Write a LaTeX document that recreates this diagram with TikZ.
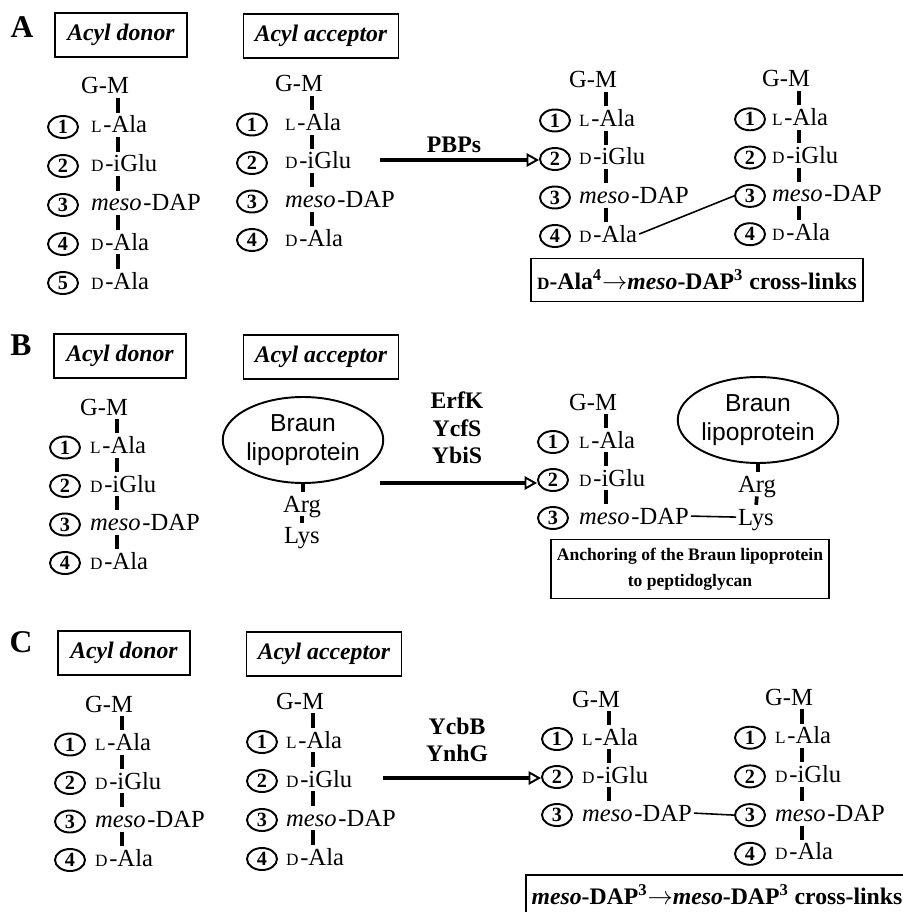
\documentclass[tikz,border=0pt]{standalone}
\usepackage{fontspec}
\setmainfont{Liberation Serif}
\setsansfont{Liberation Sans}
\usetikzlibrary{shapes.geometric,arrows.meta}

\newcommand\sC[1]{{\fontsize{9.8pt}{10pt}\selectfont #1}}
\newcommand\resname[1]{\ifcase#1 G-M\or\sC{L}\kern1pt-Ala\or\sC{D}\kern1pt-iGlu\or\emph{meso}\kern1pt-DAP\or\sC{D}\kern1pt-Ala\or\sC{D}\kern1pt-Ala\fi}
% #1 name, #2 bar x, #3 G-M y, #4 circle x, #5 row step, #6 residues
\newcommand\pepchain[6]{%
  \coordinate (#1bar) at (#2,#3);
  \node[res, anchor=base] (#1r0) at (#2-13,#3+8) {G-M};
  \foreach \i [remember=\i as \p (initially 0)] in {1,...,#6}{
    \node[res, anchor=base west] (#1r\i) at (#2-29,#3+#5*\i+8) {\resname{\i}};
    \node[num] (#1n\i) at (#4,#3+#5*\i+2) {\i};
    \draw[bond] (#1bar |- #1r\p.south) -- (#1bar |- #1r\i.north);
  }%
}

\begin{document}
\begin{tikzpicture}[x=0.02cm, y=-0.02cm,
  res/.style={font=\fontsize{14}{15}\selectfont, inner sep=1pt, text height=9pt, text depth=0pt},
  num/.style={ellipse, draw, line width=1.1pt, minimum width=0.6cm, minimum height=0.44cm,
    inner sep=0pt, font=\fontsize{11.5}{12}\selectfont\bfseries},
  bond/.style={line width=2.1pt, shorten <=1.3pt, shorten >=1.3pt},
  hdr/.style={draw, line width=0.8pt, minimum height=0.88cm, font=\fontsize{13.5}{15}\selectfont\bfseries\itshape},
  panel/.style={font=\fontsize{18}{20}\selectfont\bfseries},
  enz/.style={font=\fontsize{13.5}{15.6}\selectfont\bfseries, align=center},
  react/.style={line width=2.3pt, -{Triangle[open, length=2.5mm, width=2.7mm, line width=1.1pt]}},
  link/.style={line width=0.9pt},
  braun/.style={ellipse, draw, line width=1.1pt, minimum width=2.52cm, minimum height=1.72cm,
    inner sep=0pt, align=center, font=\sffamily\fontsize{14}{16.5}\selectfont},
  note/.style={draw, line width=0.8pt, align=center}]
\useasboundingbox (0,0) rectangle (902,912);

% ---------- A ----------
\node[panel] (pa) at (22,27) {A};
\node[hdr, minimum width=2.64cm] (adon) at (121,35) {Acyl donor};
\node[hdr, minimum width=3.1cm] (aacc) at (321,36) {Acyl acceptor};
\pepchain{ad}{118}{86}{63}{39}{5}
\pepchain{aa}{312}{84}{252}{38.5}{4}
\pepchain{al}{606}{80}{555}{38.5}{4}
\pepchain{ar}{799}{79}{750}{38.3}{4}
\coordinate (aarr) at (380,160);
\draw[react] (aarr) -- (aarr -| aln2.west);
\node[enz] (pbp) at (454,145) {PBPs};
\draw[link] (alr4.east) -- (arn3.west);
\node[note, minimum width=6.64cm, minimum height=0.86cm, font=\fontsize{13.5}{15}\selectfont\bfseries] (across) at (697,280)
  {\sC{D}-Ala\textsuperscript{4}$\rightarrow$\emph{meso}-DAP\textsuperscript{3} cross-links};

% ---------- B ----------
\node[panel] (pb) at (21,345) {B};
\node[hdr, minimum width=2.64cm] (bdon) at (120,356) {Acyl donor};
\node[hdr, minimum width=3.1cm] (bacc) at (321,357) {Acyl acceptor};
\pepchain{bd}{117}{407}{65}{38.5}{4}
\node[braun] (bbl) at (303,440) {Braun\\lipoprotein};
\node[res, anchor=base] (barg) at (302,512) {Arg};
\node[res, anchor=base] (blys) at (302,543) {Lys};
\draw[bond, shorten <=0pt] (bbl.south) -- (barg.north -| bbl.south);
\draw[bond] (barg.south) -- (blys.north);
\pepchain{bp}{606}{402}{553}{38}{3}
\node[braun] (bbr) at (758,420) {Braun\\lipoprotein};
\node[res, anchor=base] (brarg) at (757,492) {Arg};
\node[res, anchor=base] (brlys) at (756,525) {Lys};
\draw[bond, shorten <=0pt] (bbr.south) -- (brarg.north -| bbr.south);
\draw[bond] (brarg.south) -- (brlys.north);
\coordinate (barr) at (380,483);
\draw[react] (barr) -- (barr -| bpn2.west);
\node[enz] (benz) at (457,428) {ErfK\\YcfS\\YbiS};
\draw[link] (bpr3.east) -- (brlys.west);
\node[note, minimum width=5.44cm, minimum height=1.18cm, font=\fontsize{10}{15}\selectfont\bfseries] (banch) at (690,569)
  {Anchoring of the Braun lipoprotein\\to peptidoglycan};

% ---------- C ----------
\node[panel] (pc) at (21,642) {C};
\node[hdr, minimum width=2.64cm] (cdon) at (124,653) {Acyl donor};
\node[hdr, minimum width=3.1cm] (cacc) at (324,654) {Acyl acceptor};
\pepchain{cd}{122}{704}{70}{38.5}{4}
\pepchain{ca}{313}{701}{262}{39}{4}
\pepchain{cl}{609}{699}{557}{38}{3}
\pepchain{cr}{802}{697}{750}{38.7}{4}
\coordinate (carr) at (383,778);
\draw[react] (carr) -- (carr -| cln2.west);
\node[enz] (cenz) at (457,740) {YcbB\\YnhG};
\draw[link] (clr3.east) -- (crn3.west);
\node[note, minimum width=7.6cm, minimum height=0.8cm, font=\fontsize{13.5}{15}\selectfont\bfseries] (ccross) at (717,895)
  {\emph{meso}-DAP\textsuperscript{3}$\rightarrow$\emph{meso}-DAP\textsuperscript{3} cross-links};
\end{tikzpicture}
\end{document}
